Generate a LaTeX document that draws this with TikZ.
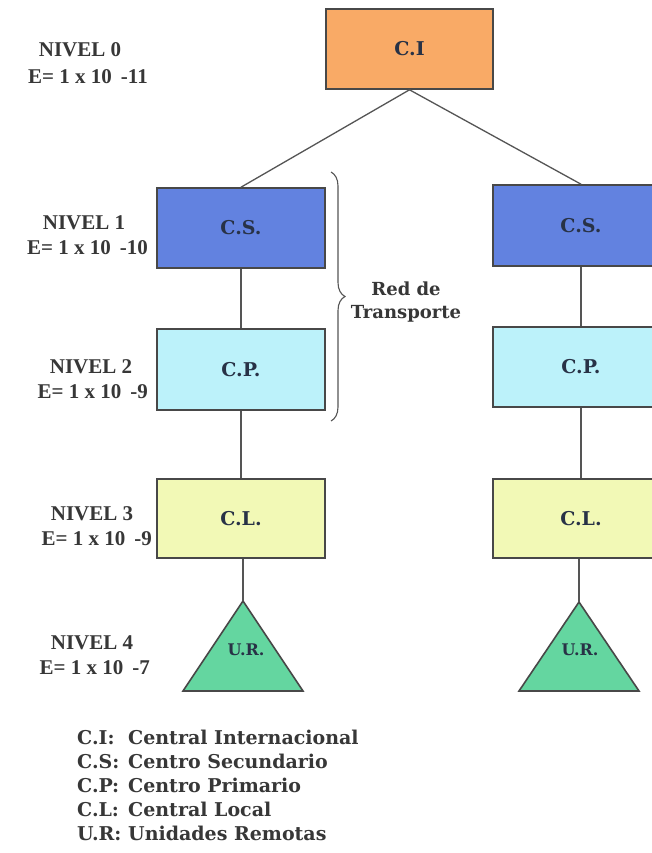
\documentclass[tikz,border=0pt]{standalone}
\usepackage{fontspec}
\setmainfont{DejaVu Serif}
\newfontfamily\lblfont{Liberation Serif}
\usetikzlibrary{decorations.pathreplacing}
\definecolor{ciC}{RGB}{249,170,102}
\definecolor{csC}{RGB}{98,130,224}
\definecolor{cpC}{RGB}{188,242,250}
\definecolor{clC}{RGB}{242,249,182}
\definecolor{urC}{RGB}{100,214,160}
\definecolor{bordC}{RGB}{72,72,72}
\definecolor{lineC}{RGB}{85,85,85}
\definecolor{boxtxt}{RGB}{40,50,70}
\definecolor{labC}{RGB}{55,55,55}
\begin{document}
\begin{tikzpicture}[x=1pt,y=-1pt,
  box/.style={draw=bordC, line width=1.6pt, inner sep=0pt,
    font=\bfseries\fontsize{19}{21}\selectfont, text=boxtxt},
  conn/.style={draw=lineC, line width=1.3pt},
  lvl/.style={font=\lblfont\bfseries\fontsize{21}{23}\selectfont, text=labC, inner sep=0pt},
  leg/.style={font=\bfseries\fontsize{19}{21}\selectfont, text=labC, inner sep=0pt, anchor=base west},
  urtxt/.style={font=\bfseries\fontsize{16}{18}\selectfont, text=boxtxt, inner sep=0pt}
]
\useasboundingbox (0,0) rectangle (652,853);
\clip (0,0) rectangle (652,853);
\fill[white] (0,0) rectangle (652,853);

% boxes
\node[box, fill=ciC, minimum width=167pt, minimum height=80pt] (ci) at (409.5,49) {C.I};
\node[box, fill=csC, minimum width=168pt, minimum height=80pt] (cs1) at (241,228) {C.S.};
\node[box, fill=cpC, minimum width=168pt, minimum height=81pt] (cp1) at (241,369.5) {C.P.};
\node[box, fill=clC, minimum width=168pt, minimum height=79pt] (cl1) at (241,518.5) {C.L.};
\node[box, fill=csC, minimum width=176pt, minimum height=81pt] (cs2) at (581,225.5) {C.S.};
\node[box, fill=cpC, minimum width=176pt, minimum height=80pt] (cp2) at (581,367) {C.P.};
\node[box, fill=clC, minimum width=176pt, minimum height=79pt] (cl2) at (581,518.5) {C.L.};

% triangles
\coordinate (ur1) at (243,601);
\coordinate (ur2) at (579,602);
\filldraw[fill=urC, draw=bordC, line width=1.6pt, line join=miter] (ur1) -- (303,691) -- (183,691) -- cycle;
\filldraw[fill=urC, draw=bordC, line width=1.6pt, line join=miter] (ur2) -- (639,691) -- (519,691) -- cycle;
\node[urtxt] (urt1) at (246,650) {U.R.};
\node[urtxt] (urt2) at (580,650) {U.R.};

% connectors
\draw[conn] (ci.south) -- (cs1.north);
\draw[conn] (ci.south) -- (cs2.north);
\draw[conn] (cs1.south) -- (cp1.north);
\draw[conn] (cp1.south) -- (cl1.north);
\draw[conn] (ur1 |- cl1.south) -- (ur1);
\draw[conn] (cs2.south) -- (cp2.north);
\draw[conn] (cp2.south) -- (cl2.north);
\draw[conn] (ur2 |- cl2.south) -- (ur2);

% brace
\coordinate (bt) at (331,172);
\coordinate (bb) at (331,421);
\draw[draw=lineC, line width=1.1pt, decorate, decoration={brace, amplitude=14pt}] (bt) -- (bb);
\node[font=\bfseries\fontsize{18}{20}\selectfont, text=labC, align=center, inner sep=0pt] (red) at (406,302) {Red de\\[3pt]Transporte};

% level labels
\node[lvl] (n0) at (80,50) {NIVEL 0};
\node[lvl, anchor=east] (e0) at (148,77) {E= 1 x 10\hspace{9pt}-11};
\node[lvl] (n1) at (84,223) {NIVEL 1};
\node[lvl, anchor=east] (e1) at (148,248) {E= 1 x 10\hspace{9pt}-10};
\node[lvl] (n2) at (91,367) {NIVEL 2};
\node[lvl, anchor=east] (e2) at (148,392) {E= 1 x 10\hspace{9pt}-9};
\node[lvl] (n3) at (92,514) {NIVEL 3};
\node[lvl, anchor=east] (e3) at (152,539) {E= 1 x 10\hspace{9pt}-9};
\node[lvl] (n4) at (92,643) {NIVEL 4};
\node[lvl, anchor=east] (e4) at (150,668) {E= 1 x 10\hspace{9pt}-7};

% legend
\node[leg] (l1a) at (77,744) {C.I:};
\node[leg] (l1b) at (128,744) {Central Internacional};
\node[leg] (l2a) at (77,768) {C.S:};
\node[leg] (l2b) at (128,768) {Centro Secundario};
\node[leg] (l3a) at (77,792) {C.P:};
\node[leg] (l3b) at (128,792) {Centro Primario};
\node[leg] (l4a) at (77,816) {C.L:};
\node[leg] (l4b) at (128,816) {Central Local};
\node[leg] (l5a) at (77,840) {U.R:};
\node[leg] (l5b) at (128,840) {Unidades Remotas};
\end{tikzpicture}
\end{document}
